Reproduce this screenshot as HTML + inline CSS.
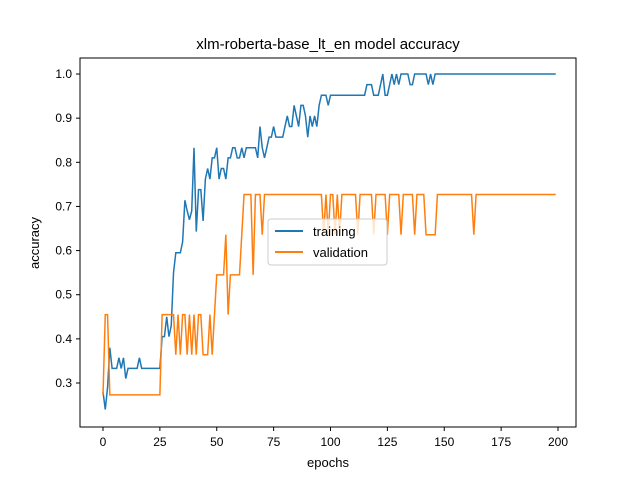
<!DOCTYPE html>
<html><head><meta charset="utf-8"><style>
body{margin:0;background:#fff;font-family:"Liberation Sans","DejaVu Sans",sans-serif}
</style></head><body>
<svg id="chart" width="640" height="480" xmlns="http://www.w3.org/2000/svg">
<rect width="640" height="480" fill="#fff"/>
<text x="328" y="49" text-anchor="middle" font-size="15">xlm-roberta-base_lt_en model accuracy</text>
<g id="plot"></g>
<rect x="80" y="58" width="496" height="369" fill="none" stroke="#000" stroke-width="1"/>
<g id="ticks" font-size="12"></g>
<text x="328" y="467" text-anchor="middle" font-size="13">epochs</text>
<text transform="translate(39,243) rotate(-90)" text-anchor="middle" font-size="13">accuracy</text>
<g>
<rect x="268" y="219" width="119" height="46" rx="3" fill="#fff" fill-opacity="0.8" stroke="#ccc"/>
<line x1="275" y1="231" x2="303" y2="231" stroke="#1f77b4" stroke-width="2"/>
<text x="313" y="236" font-size="13">training</text>
<line x1="275" y1="252" x2="303" y2="252" stroke="#ff7f0e" stroke-width="2"/>
<text x="313" y="257" font-size="13">validation</text>
</g>
</svg>
<script>
const xTicks=[0,25,50,75,100,125,150,175,200];
const yTicks=[0.3,0.4,0.5,0.6,0.7,0.8,0.9,1.0];
const training=[
0.28,0.24,0.29,0.38,0.333,0.333,0.333,0.357,0.333,0.357,
0.31,0.333,0.333,0.333,0.333,0.333,0.357,0.333,0.333,0.333,
0.333,0.333,0.333,0.333,0.333,0.333,0.405,0.405,0.45,0.405,
0.43,0.55,0.595,0.595,0.595,0.62,0.714,0.69,0.67,0.69,
0.833,0.643,0.738,0.738,0.667,0.762,0.786,0.762,0.81,0.81,
0.833,0.762,0.786,0.786,0.762,0.81,0.81,0.833,0.833,0.81,
0.81,0.833,0.81,0.833,0.833,0.833,0.833,0.833,0.81,0.881,
0.833,0.81,0.833,0.857,0.857,0.881,0.857,0.857,0.857,0.857,
0.881,0.905,0.881,0.881,0.929,0.905,0.881,0.929,0.929,0.905,
0.857,0.905,0.881,0.905,0.881,0.929,0.952,0.952,0.952,0.929,
0.952,0.952,0.952,0.952,0.952,0.952,0.952,0.952,0.952,0.952,
0.952,0.952,0.952,0.952,0.952,0.952,0.976,0.976,0.976,0.952,
0.952,0.952,0.976,1,0.952,0.952,0.976,1,0.976,1,
0.976,1,1,1,1,0.976,0.976,1,1,1,
1,1,1,0.976,1,0.976,1,1,1,1,
1,1,1,1,1,1,1,1,1,1,
1,1,1,1,1,1,1,1,1,1,
1,1,1,1,1,1,1,1,1,1,
1,1,1,1,1,1,1,1,1,1,
1,1,1,1,1,1,1,1,1,1];
const validation=[
0.273,0.455,0.455,0.273,0.273,0.273,0.273,0.273,0.273,0.273,
0.273,0.273,0.273,0.273,0.273,0.273,0.273,0.273,0.273,0.273,
0.273,0.273,0.273,0.273,0.273,0.273,0.455,0.455,0.455,0.455,
0.455,0.455,0.364,0.455,0.364,0.455,0.455,0.364,0.455,0.364,
0.455,0.364,0.455,0.455,0.364,0.364,0.364,0.455,0.364,0.455,
0.545,0.545,0.545,0.545,0.636,0.455,0.545,0.545,0.545,0.545,
0.545,0.636,0.727,0.727,0.727,0.727,0.545,0.727,0.727,0.727,
0.636,0.727,0.727,0.727,0.727,0.727,0.727,0.727,0.727,0.727,
0.727,0.727,0.727,0.727,0.727,0.727,0.727,0.727,0.727,0.727,
0.727,0.727,0.727,0.727,0.727,0.727,0.727,0.636,0.727,0.636,
0.727,0.727,0.636,0.727,0.636,0.727,0.727,0.727,0.727,0.727,
0.727,0.727,0.636,0.727,0.727,0.727,0.727,0.727,0.727,0.636,
0.727,0.727,0.727,0.727,0.727,0.636,0.727,0.727,0.727,0.727,
0.727,0.636,0.727,0.727,0.727,0.727,0.727,0.636,0.727,0.727,
0.727,0.727,0.636,0.636,0.636,0.636,0.636,0.727,0.727,0.727,
0.727,0.727,0.727,0.727,0.727,0.727,0.727,0.727,0.727,0.727,
0.727,0.727,0.727,0.636,0.727,0.727,0.727,0.727,0.727,0.727,
0.727,0.727,0.727,0.727,0.727,0.727,0.727,0.727,0.727,0.727,
0.727,0.727,0.727,0.727,0.727,0.727,0.727,0.727,0.727,0.727,
0.727,0.727,0.727,0.727,0.727,0.727,0.727,0.727,0.727,0.727];
const NS="http://www.w3.org/2000/svg";
function xs(v){return 103+v*2.275;}
function ys(v){return 383-(v-0.3)*441.4;}
const plot=document.getElementById('plot'),ticks=document.getElementById('ticks');
function line(data,color,name){
  const p=document.createElementNS(NS,'polyline');
  p.setAttribute('points',data.map((v,i)=>xs(i)+','+ys(v)).join(' '));
  p.setAttribute('fill','none');p.setAttribute('stroke',color);p.setAttribute('stroke-width','1.5');
  
  
  plot.appendChild(p);
}
line(training,'#1f77b4','training-line');
line(validation,'#ff7f0e','validation-line');
xTicks.forEach(t=>{
  const x=xs(t);
  const l=document.createElementNS(NS,'line');
  l.setAttribute('x1',x);l.setAttribute('x2',x);l.setAttribute('y1',427);l.setAttribute('y2',431);l.setAttribute('stroke','#000');
  
  
  ticks.appendChild(l);
  const s=document.createElementNS(NS,'text');
  s.setAttribute('x',x);s.setAttribute('y',446);s.setAttribute('text-anchor','middle');s.textContent=t;
  
  
  ticks.appendChild(s);
});
yTicks.forEach(t=>{
  const y=ys(t);
  const l=document.createElementNS(NS,'line');
  l.setAttribute('x1',76);l.setAttribute('x2',80);l.setAttribute('y1',y);l.setAttribute('y2',y);l.setAttribute('stroke','#000');
  
  
  ticks.appendChild(l);
  const s=document.createElementNS(NS,'text');
  s.setAttribute('x',72);s.setAttribute('y',y+4);s.setAttribute('text-anchor','end');s.textContent=t.toFixed(1);
  
  
  ticks.appendChild(s);
});
</script>
</body></html>
